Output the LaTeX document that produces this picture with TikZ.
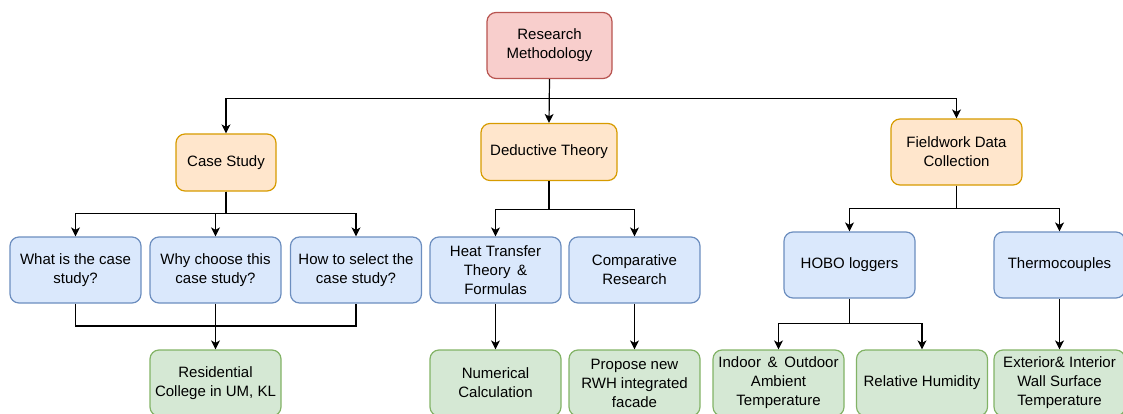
\documentclass[tikz,border=0pt]{standalone}
\usepackage{fontspec}
\setmainfont{Liberation Sans}
\usetikzlibrary{arrows,arrows.meta}
\usetikzlibrary{calc}
\definecolor{rootfill}{RGB}{248,206,204}
\definecolor{rootline}{RGB}{184,84,80}
\definecolor{orangefill}{RGB}{255,230,204}
\definecolor{orangeline}{RGB}{215,155,0}
\definecolor{bluefill}{RGB}{218,232,252}
\definecolor{blueline}{RGB}{108,142,191}
\definecolor{greenfill}{RGB}{213,232,212}
\definecolor{greenline}{RGB}{130,179,102}

\begin{document}
\begin{tikzpicture}[x=1pt, y=-1pt,
    box/.style={rounded corners=9pt, line width=1.2pt, align=center, inner sep=0pt,
                font=\fontsize{15}{19}\selectfont, minimum height=66pt, minimum width=131pt},
    rootbox/.style={box, fill=rootfill, draw=rootline, minimum width=125pt},
    catbox/.style={box, fill=orangefill, draw=orangeline, minimum height=57pt},
    subbox/.style={box, fill=bluefill, draw=blueline},
    resbox/.style={box, fill=greenfill, draw=greenline},
    link/.style={line width=1.2pt, black},
    arr/.style={link, -{Stealth[length=9pt, width=9pt, inset=2.5pt]}}]

    \useasboundingbox (0,0) rectangle (1123,414);

    \node[rootbox] (root) at (549.5,45.5) {Research\\Methodology};

    \node[catbox, minimum width=100pt] (casestudy) at (226,162.5) {Case Study};
    \node[catbox, minimum width=136pt] (deductive) at (549,152) {Deductive Theory};
    \node[catbox, minimum height=66pt] (fieldwork) at (956.5,152) {Fieldwork Data\\Collection};

    \node[subbox] (whatis)    at (75.5,270)  {What is the case\\study?};
    \node[subbox] (whychoose) at (215.5,270) {Why choose this\\case study?};
    \node[subbox] (howselect) at (356,270)   {How to select the\\case study?};
    \node[resbox] (residential) at (215.5,383) {Residential\\College in UM, KL};

    \node[subbox] (heattransfer) at (495.5,270) {Heat Transfer\\Theory \,\&\\Formulas};
    \node[subbox] (comparative)  at (634.5,270) {Comparative\\Research};
    \node[resbox] (numerical) at (495.5,383) {Numerical\\Calculation};
    \node[resbox] (propose)   at (634.5,383) {Propose new\\RWH integrated\\facade};

    \node[subbox] (hobo)   at (849.5,265)  {HOBO loggers};
    \node[subbox] (thermo) at (1059.5,265) {Thermocouples};
    \node[resbox] (ambient)  at (778.5,383)  {Indoor \,\&\, Outdoor\\Ambient\\Temperature};
    \node[resbox] (humidity) at (922,383)    {Relative Humidity};
    \node[resbox] (surface)  at (1059.5,383) {Exterior\& Interior\\Wall Surface\\Temperature};

    \draw[arr] (root.south) -- ++(0,19.5) -| (casestudy.north);
    \draw[arr] (root.south) -- (deductive.north);
    \draw[arr] (root.south) -- ++(0,19.5) -| (fieldwork.north);

    \draw[arr] (casestudy.south) -- ++(0,22) -| (whatis.north);
    \draw[arr] (casestudy.south) -- ++(0,22) -| (whychoose.north);
    \draw[arr] (casestudy.south) -- ++(0,22) -| (howselect.north);

    \coordinate (merge) at (215.5,326);
    \draw[link] (whatis.south) |- (merge) -| (howselect.south);
    \draw[arr] (whychoose.south) -- (residential.north);

    \draw[arr] (deductive.south) -- ++(0,28) -| (heattransfer.north);
    \draw[arr] (deductive.south) -- ++(0,28) -| (comparative.north);
    \draw[arr] (heattransfer.south) -- (numerical.north);
    \draw[arr] (comparative.south) -- (propose.north);

    \draw[arr] (fieldwork.south) -- ++(0,23) -| (hobo.north);
    \draw[arr] (fieldwork.south) -- ++(0,23) -| (thermo.north);
    \draw[arr] (hobo.south) -- ++(0,25) -| (ambient.north);
    \draw[arr] (hobo.south) -- ++(0,25) -| (humidity.north);
    \draw[arr] (thermo.south) -- (surface.north);

\end{tikzpicture}
\end{document}
